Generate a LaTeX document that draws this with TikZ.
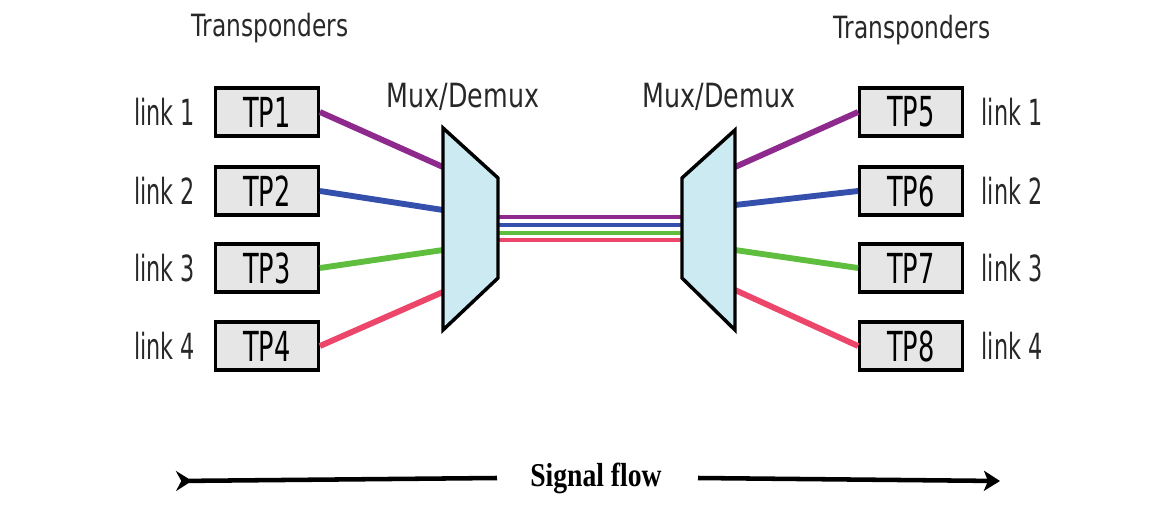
\documentclass[tikz,border=0pt]{standalone}
\usepackage{fontspec}
\setmainfont{DejaVu Sans}[FakeStretch=0.62]
\newfontfamily\muxfont{DejaVu Sans}[FakeStretch=0.76]
\newfontfamily\flowfont{Liberation Serif}[FakeStretch=0.83]
\usepackage{tikz}
\usetikzlibrary{arrows.meta}
\usetikzlibrary{positioning}
\tikzset{every picture/.style={line width=0.75pt}}
\tikzset{
  tpbox/.style={draw, line width=2.4pt, fill={rgb, 255:red, 230; green, 230; blue, 230}, minimum width=77pt, minimum height=36pt, inner sep=0pt, font=\fontsize{31}{33}\selectfont},
  linklbl/.style={inner sep=0pt, font=\fontsize{27}{30}\selectfont, color={rgb, 255:red, 40; green, 40; blue, 40}},
  titlelbl/.style={inner sep=0.75pt, font=\muxfont\fontsize{23}{26}\selectfont, color={rgb, 255:red, 40; green, 40; blue, 40}},
  muxlbl/.style={inner sep=0.75pt, font=\muxfont\fontsize{25}{28}\selectfont, color={rgb, 255:red, 40; green, 40; blue, 40}},
  muxshape/.style={draw, line width=2.6pt, line join=miter, fill={rgb, 255:red, 204; green, 234; blue, 242}},
  fibre/.style={line width=4.4pt},
  bundle/.style={line width=2.6pt},
  wlpurple/.style={color={rgb, 255:red, 142; green, 42; blue, 142}},
  wlblue/.style={color={rgb, 255:red, 52; green, 80; blue, 172}},
  wlgreen/.style={color={rgb, 255:red, 96; green, 190; blue, 62}},
  wlred/.style={color={rgb, 255:red, 236; green, 70; blue, 106}}
}

\begin{document}
\begin{tikzpicture}[x=0.75pt,y=0.75pt,yscale=-1,xscale=1]
\useasboundingbox (0,0) rectangle (1164,531);

% Transponders, left side
\node [tpbox] (tp1) at (267,112) {TP1};
\node [tpbox] (tp2) at (267,191) {TP2};
\node [tpbox] (tp3) at (267,268) {TP3};
\node [tpbox] (tp4) at (267,346) {TP4};
% Transponders, right side
\node [tpbox] (tp5) at (911,112) {TP5};
\node [tpbox] (tp6) at (911,191) {TP6};
\node [tpbox] (tp7) at (911,268) {TP7};
\node [tpbox] (tp8) at (911,346) {TP8};

% Link labels
\node [linklbl, left=14pt of tp1] (la1) {link 1};
\node [linklbl, left=14pt of tp2] (la2) {link 2};
\node [linklbl, left=14pt of tp3] (la3) {link 3};
\node [linklbl, left=14pt of tp4] (la4) {link 4};
\node [linklbl, right=13pt of tp5] (lb1) {link 1};
\node [linklbl, right=13pt of tp6] (lb2) {link 2};
\node [linklbl, right=13pt of tp7] (lb3) {link 3};
\node [linklbl, right=13pt of tp8] (lb4) {link 4};

% Titles
\node [titlelbl] (trleft) at (270,28) {Transponders};
\node [titlelbl] (trright) at (912,30) {Transponders};
\node [muxlbl] (muxleft) at (463,97) {Mux/Demux};
\node [muxlbl] (muxright) at (719,97) {Mux/Demux};

% Ports on the mux edges
\coordinate (mi1) at (443,167);
\coordinate (mi2) at (443,210);
\coordinate (mi3) at (443,250);
\coordinate (mi4) at (443,292);
\coordinate (mo1) at (498,217);
\coordinate (mo2) at (498,225);
\coordinate (mo3) at (498,233);
\coordinate (mo4) at (498,240);
\coordinate (di1) at (682,217);
\coordinate (di2) at (682,225);
\coordinate (di3) at (682,233);
\coordinate (di4) at (682,240);
\coordinate (do1) at (735,167);
\coordinate (do2) at (735,205);
\coordinate (do3) at (735,250);
\coordinate (do4) at (735,290);

%Straight Lines, left fibres
\draw [fibre, wlpurple] (tp1.east) -- (mi1);
\draw [fibre, wlblue] (tp2.east) -- (mi2);
\draw [fibre, wlgreen] (tp3.east) -- (mi3);
\draw [fibre, wlred] (tp4.east) -- (mi4);
%Straight Lines, right fibres
\draw [fibre, wlpurple] (do1) -- (tp5.west);
\draw [fibre, wlblue] (do2) -- (tp6.west);
\draw [fibre, wlgreen] (do3) -- (tp7.west);
\draw [fibre, wlred] (do4) -- (tp8.west);
%Straight Lines, trunk
\draw [bundle, wlpurple] (mo1) -- (di1);
\draw [bundle, wlblue] (mo2) -- (di2);
\draw [bundle, wlgreen] (mo3) -- (di3);
\draw [bundle, wlred] (mo4) -- (di4);

%Shape: Trapezoid, mux
\draw [muxshape] (443,128) -- (498,178) -- (498,278) -- (443,330) -- cycle;
%Shape: Trapezoid, demux
\draw [muxshape] (735,130) -- (682,178) -- (682,278) -- (735,330) -- cycle;

% Signal flow
\node [inner sep=0.75pt, font=\flowfont\bfseries\fontsize{25}{28}\selectfont] (flow) at (596,478) {Signal flow};
\coordinate (fstart) at (176,481);
\coordinate (fend) at (1000,481);
\draw [line width=3.4pt, {Stealth[reversed, length=12pt, width=15pt, inset=4pt]}-] (fstart) -- (flow.west -| 497,481);
\draw [line width=3.4pt, -{Stealth[length=12pt, width=15pt, inset=3pt]}] (flow.east -| 698,481) -- (fend);

\end{tikzpicture}
\end{document}
